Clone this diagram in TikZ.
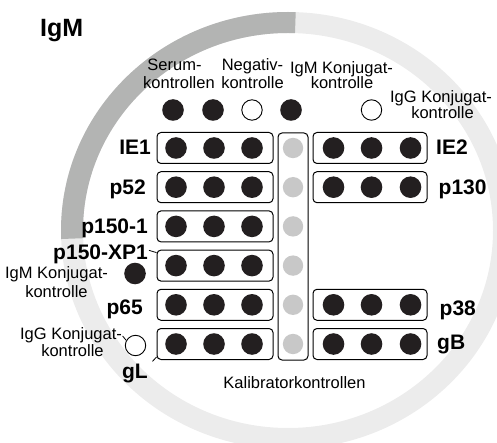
\documentclass[tikz,border=0pt]{standalone}
\usepackage{fontspec}
\setmainfont{Liberation Sans}
\definecolor{ringlight}{RGB}{236,236,236}
\definecolor{ringdark}{RGB}{179,180,179}
\definecolor{dotdark}{RGB}{35,31,32}
\definecolor{dotgray}{RGB}{200,200,200}
\begin{document}
\begin{tikzpicture}[x=1pt,y=-1pt,
  txt/.style={inner sep=0pt,font=\fontsize{16.5}{18}\selectfont},
  lab/.style={txt,font=\fontsize{21}{24}\selectfont\bfseries},
  ttl/.style={txt,font=\fontsize{25}{28}\selectfont\bfseries},
  stripbox/.style={draw=black,line width=1pt,rounded corners=4pt,inner sep=0pt},
  dotd/.style={circle,fill=dotdark,inner sep=0pt,minimum size=21.6pt},
  doto/.style={circle,fill=white,draw=black,line width=0.9pt,inner sep=0pt,minimum size=20.4pt},
  dotg/.style={circle,fill=dotgray,inner sep=0pt,minimum size=20.4pt},
  leader/.style={draw=black,line width=0.8pt}]
\useasboundingbox (0,0) rectangle (497,443);
% ring: light full ring, dark quarter on the upper left
\begin{scope}
  \clip (0,0) rectangle (497,443);
  \fill[ringlight,even odd rule]
    (288,230.5) ellipse [x radius=227pt,y radius=218.5pt]
    (288,230.5) ellipse [x radius=205pt,y radius=197.5pt];
  \begin{scope}
    \clip (288,230.5) -- (296.5,-10) -- (-10,-10) -- (-10,241.7) -- cycle;
    \fill[ringdark,even odd rule]
      (288,230.5) ellipse [x radius=227pt,y radius=218.5pt]
      (288,230.5) ellipse [x radius=205pt,y radius=197.5pt];
  \end{scope}
\end{scope}
% title
\node[ttl,anchor=base west] (title) at (40,37) {IgM};
% strip boxes
\foreach \r/\y in {0/148,1/187.2,2/226.4,3/265.6,4/304.8,5/344}{
  \node[stripbox,minimum width=116pt,minimum height=31pt] (b\r L) at (215,\y) {};
}
\foreach \r/\y in {0/148,1/187.2,4/304.8,5/344}{
  \node[stripbox,minimum width=114pt,minimum height=31pt] (b\r R) at (370,\y) {};
}
\node[stripbox,minimum width=30pt,minimum height=227pt] (calbox) at (293,246.5) {};
% dots in the strips
\foreach \r/\y in {0/148,1/187.2,2/226.4,3/265.6,4/304.8,5/344}{
  \foreach \c/\x in {a/176,b/214,c/252}{\node[dotd] (d\r\c L) at (\x,\y) {};}
  \node[dotg] (g\r) at (293,\y) {};
}
\foreach \r/\y in {0/148,1/187.2,4/304.8,5/344}{
  \foreach \c/\x in {a/333.5,b/371.5,c/410.5}{\node[dotd] (d\r\c R) at (\x,\y) {};}
}
% control dots
\node[dotd] (sk1) at (173,110) {};
\node[dotd] (sk2) at (213,110) {};
\node[doto] (nk) at (252,110) {};
\node[dotd] (igmt) at (291,110) {};
\node[doto] (iggt) at (371.5,110) {};
\node[dotd] (igml) at (135,273.5) {};
\node[doto] (iggl) at (135.5,345.5) {};
% top labels
\node[txt,anchor=base] (ser1) at (174.5,71) {Serum-};
\node[txt,anchor=base] (ser2) at (179,89) {kontrollen};
\node[txt,anchor=base] (neg1) at (252.5,71) {Negativ-};
\node[txt,anchor=base] (neg2) at (252.5,89) {kontrolle};
\node[txt,anchor=base] (igmt1) at (341.5,73.5) {IgM Konjugat-};
\node[txt,anchor=base] (igmt2) at (342,89) {kontrolle};
\node[txt,anchor=base] (iggt1) at (441,103) {IgG Konjugat-};
\node[txt,anchor=base] (iggt2) at (442.5,118.5) {kontrolle};
% left labels
\node[txt,anchor=base] (igml1) at (56.5,278.5) {IgM Konjugat-};
\node[txt,anchor=base] (igml2) at (56.5,297.5) {kontrolle};
\node[txt,anchor=base] (iggl1) at (71,339.5) {IgG Konjugat-};
\node[txt,anchor=base] (iggl2) at (72.5,356.5) {kontrolle};
% strip labels
\node[lab,anchor=base east] (lIE1) at (151,154.5) {IE1};
\node[lab,anchor=base east] (lp52) at (146,194.5) {p52};
\node[lab,anchor=base east] (lp1501) at (148,233.5) {p150-1};
\node[lab,anchor=base east] (lxp1) at (148,259.5) {p150-XP1};
\node[lab,anchor=base east] (lp65) at (143,314) {p65};
\node[lab,anchor=base east] (lgL) at (148,378) {gL};
\node[lab,anchor=base west] (lIE2) at (436,155) {IE2};
\node[lab,anchor=base west] (lp130) at (438.5,194.5) {p130};
\node[lab,anchor=base west] (lp38) at (439.5,315) {p38};
\node[lab,anchor=base west] (lgB) at (437,349) {gB};
\node[txt,anchor=base] (kal) at (294.5,388.5) {Kalibratorkontrollen};
% leader lines
\draw[leader] ([xshift=1pt,yshift=4pt]lxp1.east) -- ([yshift=-3pt]b3L.north west);
\draw[leader] ([xshift=4.5pt,yshift=2pt]lgL.north east) -- ([yshift=3pt]b5L.south west);
\draw[leader] ([xshift=0.5pt,yshift=3.5pt]iggl1.base east) -- (iggl.151);
\end{tikzpicture}
\end{document}
